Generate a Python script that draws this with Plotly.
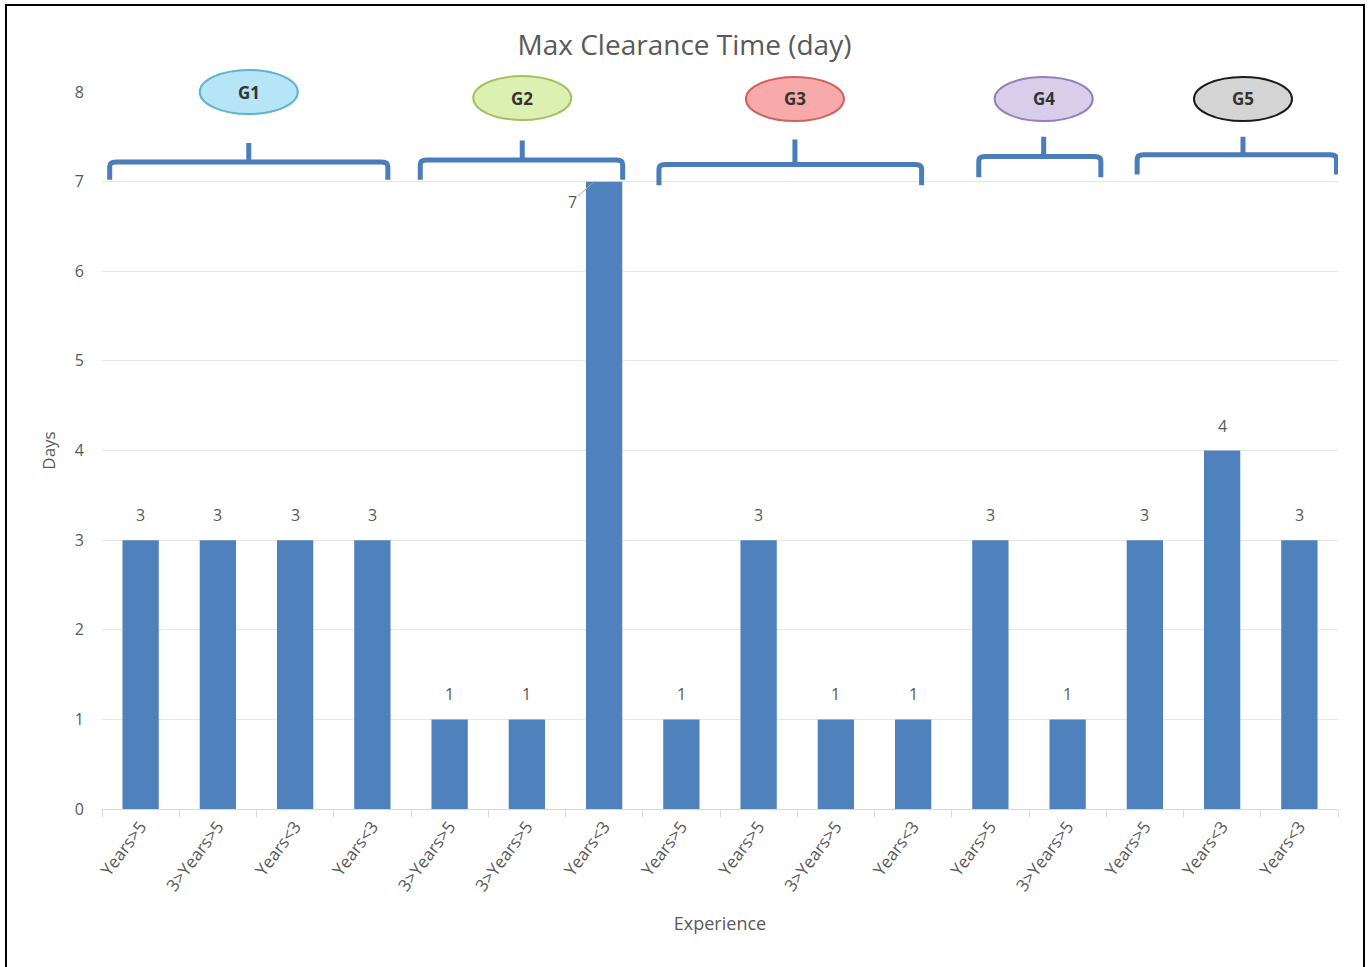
import plotly.graph_objects as go
import html

# ---- data ----
categories = ["Years>5", "3>Years>5", "Years<3", "Years<3",
              "3>Years>5", "3>Years>5", "Years<3",
              "Years>5", "Years>5", "3>Years>5", "Years<3",
              "Years>5", "3>Years>5",
              "Years>5", "Years<3", "Years<3"]
days = [3, 3, 3, 3, 1, 1, 7, 1, 3, 1, 1, 3, 1, 3, 4, 3]
group_names = ["G1", "G2", "G3", "G4", "G5"]

# ---- decoration geometry (category units / axis units) ----
brace_x0 = [-0.40, 3.62, 6.71, 10.85, 12.90]
brace_x1 = [3.20, 6.24, 10.11, 12.43, 15.48]
brace_yh = [7.22, 7.24, 7.19, 7.28, 7.30]
brace_yb = [7.02, 7.02, 6.96, 7.05, 7.08]
brace_yp = [7.43, 7.46, 7.47, 7.50, 7.50]
ell_cx = [1.40, 4.94, 8.47, 11.69, 14.27]
ell_cy_px = [0, 6, 7, 7, 7]   # offset below the top gridline, pixels
ell_fill = ["#b5e5f6", "#dcf0b2", "#f7aaa9", "#d9cdec", "#d4d4d4"]
ell_line = ["#5cb4d0", "#a3c25f", "#cf625e", "#9380b6", "#1a1a1a"]

N = len(categories)
x = list(range(N))
bar_color = "#4f81bd"
txt_color = "#595959"
font_family = "Open Sans"

fig = go.Figure()
fig.add_trace(go.Bar(x=x, y=days, width=0.47, marker=dict(color=bar_color, line=dict(width=0)),
                     hoverinfo="skip", showlegend=False))

# data labels
for i, v in enumerate(days):
    if v >= 7:
        fig.add_annotation(x=i - 0.13, y=v, xref="x", yref="y", text=str(v), showarrow=True,
                           arrowhead=0, arrowwidth=1, arrowcolor="#a6a6a6", ax=-22, ay=20,
                           font=dict(size=16, color=txt_color, family=font_family))
    else:
        fig.add_annotation(x=i, y=v, xref="x", yref="y", text=str(v), showarrow=False,
                           yanchor="bottom", yshift=12,
                           font=dict(size=16, color=txt_color, family=font_family))

def x2paper(v):
    return (v + 0.5) / N

shapes = []
# braces
for k in range(len(group_names)):
    x0, x1 = brace_x0[k], brace_x1[k]
    xm = ell_cx[k]
    yh, yb, yp = brace_yh[k], brace_yb[k], brace_yp[k]
    r = 0.08
    path = (f"M {x0},{yb} L {x0},{yh - 0.05} Q {x0},{yh} {x0 + r},{yh} "
            f"L {x1 - r},{yh} Q {x1},{yh} {x1},{yh - 0.05} L {x1},{yb} "
            f"M {xm},{yh} L {xm},{yp}")
    shapes.append(dict(type="path", path=path, xref="x", yref="y",
                       line=dict(color="#4a7dba", width=5), layer="above"))
# ellipses
for k, g in enumerate(group_names):
    cx = x2paper(ell_cx[k])
    hw = 49 / 1236
    cy = 1.0 - ell_cy_px[k] / 717
    hh = 22 / 717
    shapes.append(dict(type="circle", xref="paper", yref="paper",
                       x0=cx - hw, x1=cx + hw, y0=cy - hh, y1=cy + hh,
                       fillcolor=ell_fill[k], line=dict(color=ell_line[k], width=2), layer="above"))
    fig.add_annotation(x=cx, y=cy, xref="paper", yref="paper", text="<b>" + g + "</b>", showarrow=False,
                       font=dict(size=17, color="#333333", family=font_family),
                       xanchor="center", yanchor="middle")
# outer frame
shapes.append(dict(type="rect", xref="paper", yref="paper",
                   x0=-96 / 1236, x1=1262 / 1236, y0=-170 / 717, y1=804 / 717,
                   line=dict(color="black", width=2), fillcolor="rgba(0,0,0,0)", layer="above"))

fig.update_layout(
    width=1369, height=967,
    margin=dict(l=102, r=31, t=92, b=158),
    paper_bgcolor="white", plot_bgcolor="white",
    title=dict(text="Max Clearance Time (day)", x=0.5, xanchor="center", y=1 - 45 / 967,
               yanchor="middle", font=dict(size=28, color=txt_color, family=font_family)),
    shapes=shapes,
    showlegend=False,
)
fig.update_xaxes(
    range=[-0.5, N - 0.5],
    tickmode="array", tickvals=x, ticktext=[html.escape(c) for c in categories],
    tickangle=-53, ticks="", showgrid=False,
    tickfont=dict(size=17, color=txt_color, family=font_family),
    showline=True, linecolor="#d9d9d9", linewidth=1,
    minor=dict(ticks="outside", tick0=-0.5, dtick=1, ticklen=7, tickcolor="#d9d9d9", showgrid=False),
    title=dict(text="Experience", font=dict(size=18, color=txt_color, family=font_family), standoff=22),
    zeroline=False, fixedrange=True,
)
fig.update_yaxes(
    range=[0, 8], dtick=1, tick0=0, showgrid=True, gridcolor="#e6e6e6", gridwidth=1,
    ticks="", ticklabelstandoff=17,
    tickfont=dict(size=16, color=txt_color, family=font_family),
    zeroline=False, showline=False,
    title=dict(text="Days", font=dict(size=17, color=txt_color, family=font_family), standoff=14),
    fixedrange=True,
)

fig.write_html("out.html")
